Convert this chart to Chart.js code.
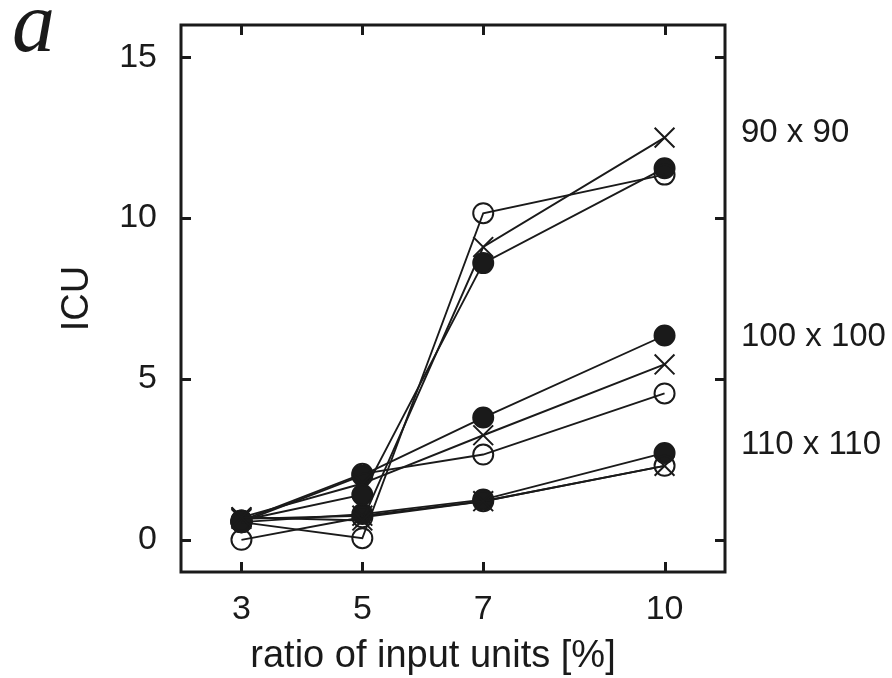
<!DOCTYPE html>
<html>
<head>
<meta charset="utf-8">
<script src="https://cdn.jsdelivr.net/npm/chart.js@4.4.1/dist/chart.umd.min.js"></script>
<style>
  html, body { margin: 0; padding: 0; background: #fff; }
  #wrap { position: relative; width: 892px; height: 678px; }
</style>
</head>
<body>
<div id="wrap"><canvas id="icuChart"></canvas></div>
<script>
// x: ratio of input units [%]
const ratios = [3, 5, 7, 10];
const xTicks = [3, 5, 7, 10];
const yTicks = [0, 5, 10, 15];
const sizeLabels = ['90 x 90', '100 x 100', '110 x 110'];

// ICU values, one array per grid size and marker
const cross90  = [0.7, 0.6, 9.1, 12.5];
const filled90 = [0.6, 1.4, 8.6, 11.55];
const open90   = [0.55, 0.05, 10.15, 11.35];

const cross100  = [0.7, 1.75, 3.25, 5.45];
const filled100 = [0.55, 2.0, 3.8, 6.35];
const open100   = [0.6, 2.05, 2.65, 4.55];

const cross110  = [0.65, 0.75, 1.2, 2.3];
const filled110 = [0.55, 0.8, 1.25, 2.7];
const open110   = [0.0, 0.7, 1.2, 2.3];

const INK = '#1a1a1a';
const FONT = "'Liberation Sans', Arial, Helvetica, sans-serif";

function toPoints(vals) {
    return vals.map((v, i) => ({ x: ratios[i], y: v }));
}

function makeSet(label, vals, marker) {
    const ds = {
        label: label,
        data: toPoints(vals),
        borderColor: INK,
        borderWidth: 1.9,
        pointBorderColor: INK,
        pointBorderWidth: 2,
        showLine: true,
        fill: false
    };
    if (marker === 'cross') {
        ds.pointStyle = 'crossRot';
        ds.pointRadius = 14;
        ds.pointBackgroundColor = INK;
    } else if (marker === 'filled') {
        ds.pointStyle = 'circle';
        ds.pointRadius = 10;
        ds.pointBackgroundColor = INK;
    } else {
        ds.pointStyle = 'circle';
        ds.pointRadius = 10;
        ds.pointBackgroundColor = 'rgba(0,0,0,0)';
    }
    return ds;
}

// frame, inward ticks on all four sides, x title, size labels and panel letter
const framePlugin = {
    id: 'frame',
    afterDraw(chart) {
        const ctx = chart.ctx;
        const area = chart.chartArea;
        const xs = chart.scales.x;
        const ys = chart.scales.y;
        const tl = 10;
        ctx.save();
        ctx.strokeStyle = INK;
        ctx.lineWidth = 3;
        ctx.strokeRect(area.left, area.top, area.right - area.left, area.bottom - area.top);
        ctx.beginPath();
        xTicks.forEach(v => {
            const px = Math.round(xs.getPixelForValue(v)) + 0.5;
            ctx.moveTo(px, area.bottom);
            ctx.lineTo(px, area.bottom - tl);
            ctx.moveTo(px, area.top);
            ctx.lineTo(px, area.top + tl);
        });
        yTicks.forEach(v => {
            const py = Math.round(ys.getPixelForValue(v)) + 0.5;
            ctx.moveTo(area.left, py);
            ctx.lineTo(area.left + tl, py);
            ctx.moveTo(area.right, py);
            ctx.lineTo(area.right - tl, py);
        });
        ctx.stroke();

        ctx.fillStyle = INK;
        ctx.textBaseline = 'middle';
        ctx.textAlign = 'center';
        ctx.font = '38px ' + FONT;
        ctx.fillText('ratio of input units [%]', 433, 657);

        ctx.font = '33px ' + FONT;
        ctx.textAlign = 'left';
        const labelAt = [12.65, 6.3, 2.95];
        sizeLabels.forEach((t, i) => {
            ctx.fillText(t, area.right + 16, ys.getPixelForValue(labelAt[i]));
        });

        ctx.font = "italic 86px 'Liberation Serif', 'DejaVu Serif', serif";
        ctx.textBaseline = 'alphabetic';
        ctx.fillText('a', 12, 51);
        ctx.restore();
    }
};

const ctx = document.getElementById('icuChart').getContext('2d');
const config = {
    type: 'line',
    data: {
        datasets: [
            makeSet('90 x 90 cross', cross90, 'cross'),
            makeSet('90 x 90 open', open90, 'open'),
            makeSet('90 x 90 filled', filled90, 'filled'),
            makeSet('100 x 100 cross', cross100, 'cross'),
            makeSet('100 x 100 open', open100, 'open'),
            makeSet('100 x 100 filled', filled100, 'filled'),
            makeSet('110 x 110 cross', cross110, 'cross'),
            makeSet('110 x 110 open', open110, 'open'),
            makeSet('110 x 110 filled', filled110, 'filled')
        ]
    },
    options: {
        responsive: true,
        maintainAspectRatio: false,
        animation: false,
        events: [],
        layout: { padding: { top: 25, right: 167, left: 0, bottom: 0 } },
        plugins: {
            legend: { display: false },
            tooltip: { enabled: false }
        },
        scales: {
            x: {
                type: 'linear',
                min: 2,
                max: 11,
                afterBuildTicks: s => { s.ticks = xTicks.map(v => ({ value: v })); },
                afterFit: s => { s.height = 106; s.paddingLeft = 0; s.paddingRight = 0; },
                grid: { display: false, drawTicks: false },
                border: { display: false },
                ticks: {
                    color: INK,
                    padding: 17,
                    font: { family: FONT, size: 34 }
                },
                title: { display: false }
            },
            y: {
                type: 'linear',
                min: -1,
                max: 16,
                afterBuildTicks: s => { s.ticks = yTicks.map(v => ({ value: v })); },
                afterFit: s => { s.width = 181; s.paddingTop = 0; s.paddingBottom = 0; },
                grid: { display: false, drawTicks: false },
                border: { display: false },
                ticks: {
                    color: INK,
                    padding: 24,
                    font: { family: FONT, size: 34 }
                },
                title: {
                    display: true,
                    text: 'ICU',
                    color: INK,
                    padding: { top: 55, bottom: 0 },
                    font: { family: FONT, size: 38 }
                }
            }
        }
    },
    plugins: [framePlugin]
};
const icuChart = new Chart(ctx, config);
</script>
</body>
</html>
